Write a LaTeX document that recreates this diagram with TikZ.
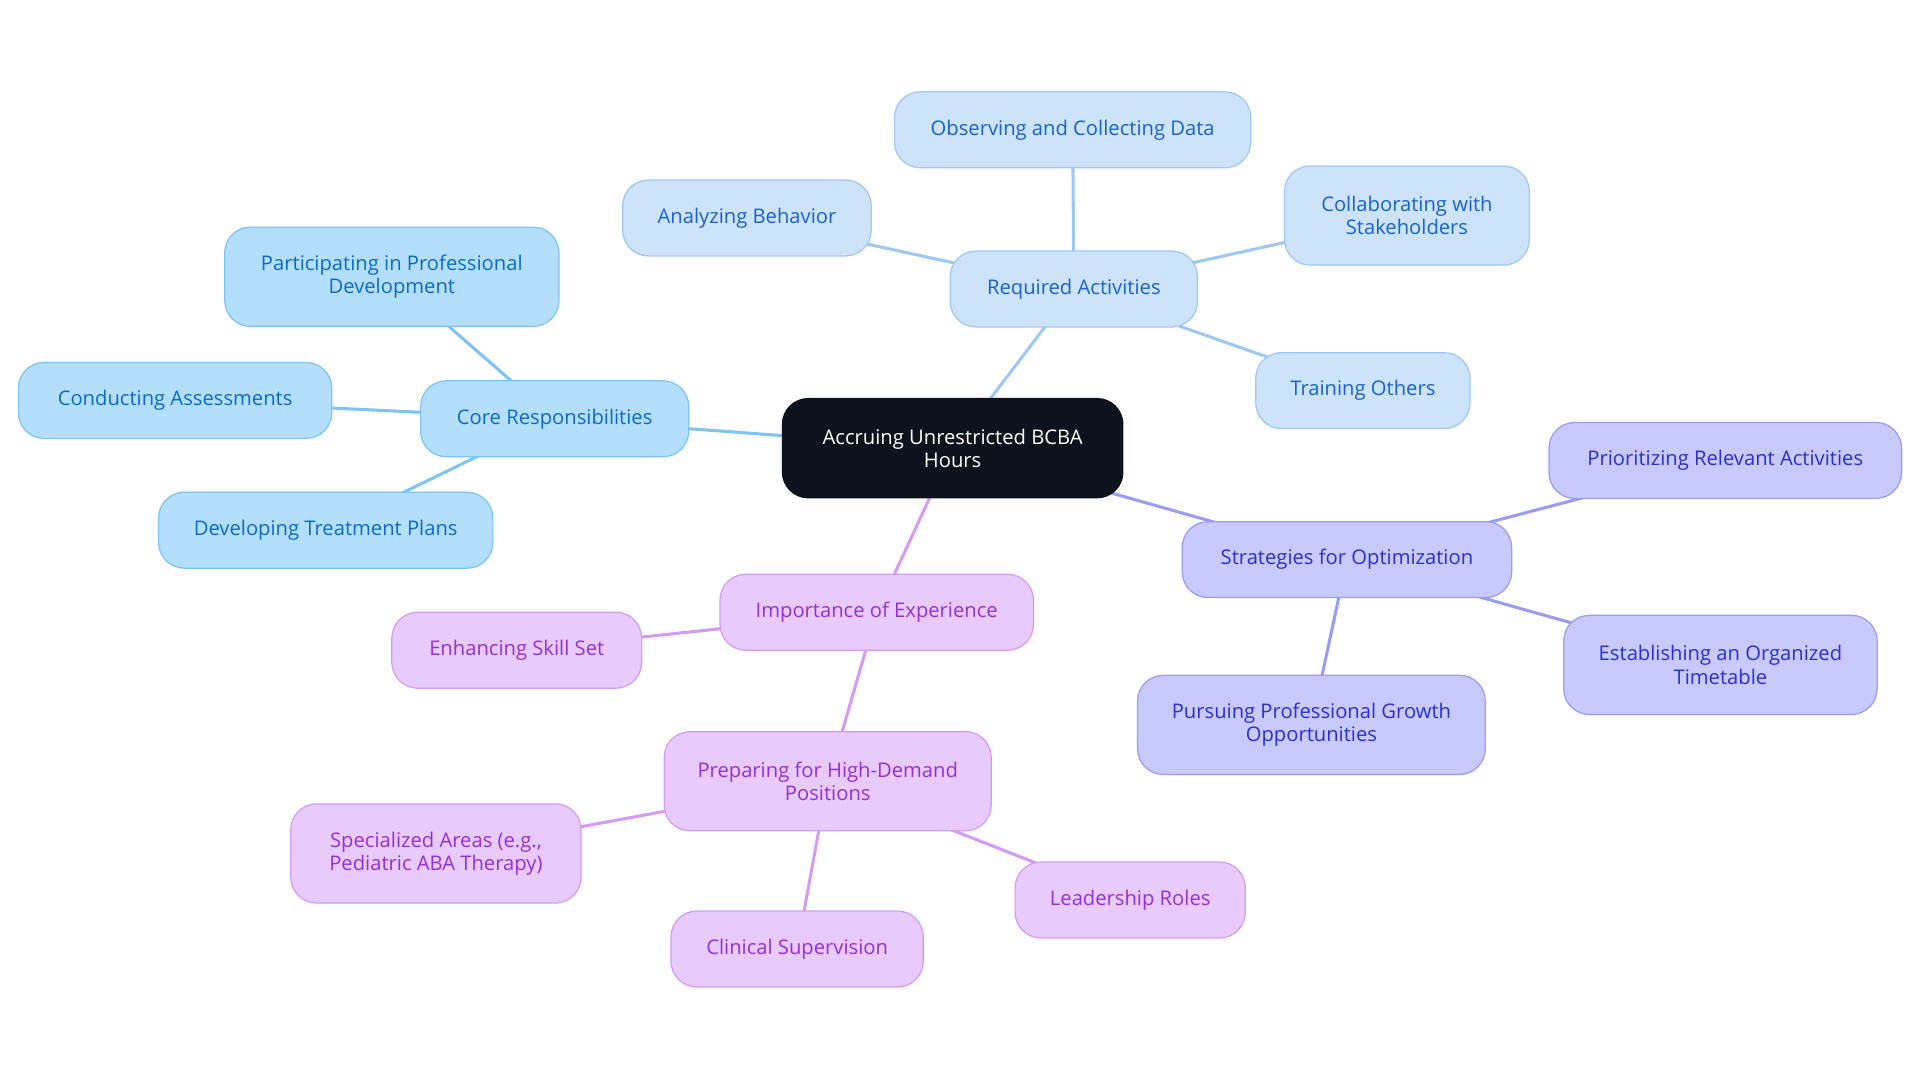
\documentclass[tikz,border=0pt]{standalone}
\usepackage{fontspec}
\setmainfont{Open Sans}
\usepackage{tikz}
\usetikzlibrary{backgrounds}

\definecolor{rootfill}{HTML}{0C131C}
\definecolor{corefill}{HTML}{B3DFFC}
\definecolor{coredraw}{HTML}{7EC3F2}
\definecolor{coretext}{HTML}{0B6BC4}
\definecolor{reqfill}{HTML}{CCE3FA}
\definecolor{reqdraw}{HTML}{9EC8F2}
\definecolor{reqtext}{HTML}{1A62C9}
\definecolor{stratfill}{HTML}{C8C9FC}
\definecolor{stratdraw}{HTML}{9A9CF2}
\definecolor{strattext}{HTML}{2B2FCB}
\definecolor{impfill}{HTML}{E8CAFC}
\definecolor{impdraw}{HTML}{D49BF3}
\definecolor{imptext}{HTML}{9231D6}

\begin{document}
\begin{tikzpicture}[x = 1pt, y = -1pt,
                    font = \fontsize{16.5}{19}\selectfont,
                    box/.style = {rectangle, rounded corners = 21pt, line width = 1pt,
                                  align = center, inner sep = 2pt, minimum height = 62pt},
                    tall/.style = {minimum height = 81pt},
                    rootbox/.style = {box, tall, fill = rootfill, draw = rootfill, text = white},
                    corebox/.style = {box, fill = corefill, draw = coredraw, text = coretext},
                    reqbox/.style = {box, fill = reqfill, draw = reqdraw, text = reqtext},
                    stratbox/.style = {box, fill = stratfill, draw = stratdraw, text = strattext},
                    impbox/.style = {box, fill = impfill, draw = impdraw, text = imptext},
                    link/.style = {line width = 2.5pt}]

\useasboundingbox (0,0) rectangle (1568,884.4);

\node [rootbox, minimum width = 278pt] (root) at (778,366) {Accruing Unrestricted BCBA\\Hours};

% core responsibilities
\node [corebox, minimum width = 219pt] (core) at (453,342) {Core Responsibilities};
\node [corebox, tall, minimum width = 273pt] (core1) at (320,226) {Participating in Professional\\Development};
\node [corebox, minimum width = 256pt] (core2) at (143,327) {Conducting Assessments};
\node [corebox, minimum width = 273pt] (core3) at (266,433) {Developing Treatment Plans};

% required activities
\node [reqbox, minimum width = 202pt] (req) at (877,236) {Required Activities};
\node [reqbox, minimum width = 291pt] (req1) at (876,106) {Observing and Collecting Data};
\node [reqbox, minimum width = 203pt] (req2) at (610,178) {Analyzing Behavior};
\node [reqbox, tall, minimum width = 200pt] (req3) at (1149,176) {Collaborating with\\Stakeholders};
\node [reqbox, minimum width = 175pt] (req4) at (1113,319) {Training Others};

% strategies for optimization
\node [stratbox, minimum width = 269pt] (strat) at (1100,457) {Strategies for Optimization};
\node [stratbox, minimum width = 288pt] (strat1) at (1409,376) {Prioritizing Relevant Activities};
\node [stratbox, tall, minimum width = 256pt] (strat2) at (1405,543) {Establishing an Organized\\Timetable};
\node [stratbox, tall, minimum width = 284pt] (strat3) at (1071,592) {Pursuing Professional Growth\\Opportunities};

% importance of experience
\node [impbox, minimum width = 256pt] (imp) at (716,500) {Importance of Experience};
\node [impbox, minimum width = 204pt] (imp1) at (422,531) {Enhancing Skill Set};
\node [impbox, tall, minimum width = 267pt] (imp2) at (676,638) {Preparing for High-Demand\\Positions};
\node [impbox, tall, minimum width = 237pt] (imp3) at (356,697) {Specialized Areas (e.g.,\\Pediatric ABA Therapy)};
\node [impbox, minimum width = 206pt] (imp4) at (651,775) {Clinical Supervision};
\node [impbox, minimum width = 188pt] (imp5) at (923,735) {Leadership Roles};

\begin{scope}[on background layer]
\draw[link, coredraw] (root.center)--(core.center);
\draw[link, coredraw] (core.center)--(core1.center);
\draw[link, coredraw] (core.center)--(core2.center);
\draw[link, coredraw] (core.center)--(core3.center);
\draw[link, reqdraw] (root.center)--(req.center);
\draw[link, reqdraw] (req.center)--(req1.center);
\draw[link, reqdraw] (req.center)--(req2.center);
\draw[link, reqdraw] (req.center)--(req3.center);
\draw[link, reqdraw] (req.center)--(req4.center);
\draw[link, stratdraw] (root.center)--(strat.center);
\draw[link, stratdraw] (strat.center)--(strat1.center);
\draw[link, stratdraw] (strat.center)--(strat2.center);
\draw[link, stratdraw] (strat.center)--(strat3.center);
\draw[link, impdraw] (root.center)--(imp.center);
\draw[link, impdraw] (imp.center)--(imp1.center);
\draw[link, impdraw] (imp.center)--(imp2.center);
\draw[link, impdraw] (imp2.center)--(imp3.center);
\draw[link, impdraw] (imp2.center)--(imp4.center);
\draw[link, impdraw] (imp2.center)--(imp5.center);
\end{scope}

\end{tikzpicture}
\end{document}
